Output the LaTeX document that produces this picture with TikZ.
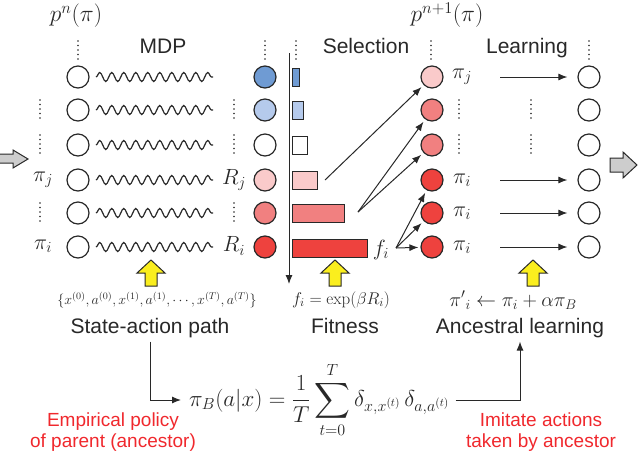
\RequirePackage{fix-cm}
\documentclass[tikz,border=0pt]{standalone}
\usepackage{exscale}
\usepackage[no-math]{fontspec}
\newfontfamily\hv{Liberation Sans}
\usetikzlibrary{arrows.meta,decorations.pathmorphing,calc}
\definecolor{cblue}{RGB}{111,155,211}
\definecolor{clblue}{RGB}{181,202,236}
\definecolor{cpink}{RGB}{250,202,202}
\definecolor{csalmon}{RGB}{241,128,128}
\definecolor{cred}{RGB}{238,66,62}
\definecolor{cyel}{RGB}{250,238,30}
\definecolor{cgray}{RGB}{205,205,205}
\definecolor{ctxtred}{RGB}{240,40,45}
\definecolor{cline}{RGB}{40,40,40}
\tikzset{
  circ/.style={circle, draw=cline, line width=1.2pt, minimum size=22pt, inner sep=0pt},
  barbox/.style={draw=cline, line width=0.9pt, anchor=west, minimum height=18pt, inner sep=0pt},
  dotline/.style={draw=cline, line width=1.6pt, dash pattern=on 0pt off 4.5pt, line cap=round},
  arr/.style={draw=cline, line width=1pt, -{Latex[length=9pt,width=7pt]}},
  wavy/.style={draw=cline, line width=1.2pt, decorate, decoration={snake, segment length=12pt, amplitude=4.5pt}},
  lbl/.style={font=\fontsize{22}{26}\selectfont, inner sep=0pt, text=cline},
  hd/.style={font=\hv\fontsize{21}{25}\selectfont, text=cline, anchor=base, inner sep=0pt},
  redtxt/.style={font=\hv\fontsize{19}{20.5}\selectfont, text=ctxtred, align=center, inner sep=0pt},
  bigarr/.style={draw=cline, line width=1pt, fill=cgray, line join=miter},
  yelarr/.style={draw=cline, line width=1pt, fill=cyel, line join=miter}
}
\begin{document}
\begin{tikzpicture}[x=1pt,y=-1pt]
\useasboundingbox (0,0) rectangle (640,456);
% rows: 77,110,145,180,213,247
\foreach \r/\y in {1/77,2/110,3/145,4/180,5/213,6/247}{
  \node[circ] (a\r) at (78,\y) {};
  \coordinate (ws\r) at (96,\y);
  \coordinate (we\r) at (213,\y);
  \draw[wavy] (ws\r) -- (we\r);
  \node[circ] (d\r) at (589,\y) {};
}
% fitness circles
\node[circ, fill=cblue] (b1) at (265,77) {};
\node[circ, fill=clblue] (b2) at (265,110) {};
\node[circ] (b3) at (265,145) {};
\node[circ, fill=cpink] (b4) at (265,180) {};
\node[circ, fill=csalmon] (b5) at (265,213) {};
\node[circ, fill=cred] (b6) at (265,247) {};
% bars
\node[barbox, fill=cblue, minimum width=7pt] (r1) at (292,77) {};
\node[barbox, fill=clblue, minimum width=11pt] (r2) at (292,110) {};
\node[barbox, fill=white, minimum width=15pt] (r3) at (292,145) {};
\node[barbox, fill=cpink, minimum width=25pt] (r4) at (292,180) {};
\node[barbox, fill=csalmon, minimum width=52pt] (r5) at (292,213) {};
\node[barbox, fill=cred, minimum width=75pt] (r6) at (292,248) {};
% new population circles
\node[circ, fill=cpink] (c1) at (432,77) {};
\node[circ, fill=csalmon] (c2) at (432,110) {};
\node[circ, fill=csalmon] (c3) at (432,145) {};
\node[circ, fill=cred] (c4) at (432,180) {};
\node[circ, fill=cred] (c5) at (432,213) {};
\node[circ, fill=cred] (c6) at (432,247) {};
% vertical axis
\coordinate (ax0) at (289,53);
\coordinate (ax1) at (289,284);
\draw[arr] (ax0) -- (ax1);
% top dotted lines
\foreach \x/\n in {78/t1,265/t2,296/t3,431/t4,589/t5}{
  \coordinate (\n a) at (\x,41);
  \coordinate (\n b) at (\x,61);
  \draw[dotline] (\n a) -- (\n b);
}
% row dots
\foreach \x/\n in {40/L,234/M,459/N,531/P}{
  \foreach \y/\k in {110/2,145/3}{
    \coordinate (\n\k a) at (\x,\y-10);
    \coordinate (\n\k b) at (\x,\y+10);
    \draw[dotline] (\n\k a) -- (\n\k b);
  }
}
\foreach \x/\n in {40/L,234/M}{
  \coordinate (\n5a) at (\x,203);
  \coordinate (\n5b) at (\x,223);
  \draw[dotline] (\n5a) -- (\n5b);
}
% labels
\node[lbl] (pj) at (43,180) {$\pi_j$};
\node[lbl] (pi) at (43,246) {$\pi_i$};
\node[lbl] (Rj) at (234,180) {$R_j$};
\node[lbl] (Ri) at (234,246) {$R_i$};
\node[lbl] (fi) at (381,250) {$f_i$};
\node[lbl] (npj) at (462,77) {$\pi_j$};
\node[lbl] (npi4) at (462,180) {$\pi_i$};
\node[lbl] (npi5) at (462,213) {$\pi_i$};
\node[lbl] (npi6) at (462,247) {$\pi_i$};
\node[lbl, font=\fontsize{23.5}{27}\selectfont] (pn) at (76,16) {$p^n(\pi)$};
\node[lbl, font=\fontsize{23.5}{27}\selectfont] (pn1) at (447,15) {$p^{n+1}(\pi)$};
% headings
\node[hd] (mdp) at (163,53) {MDP};
\node[hd] (sel) at (366,53) {Selection};
\node[hd] (lrn) at (527,53) {Learning};
% selection arrows
\coordinate (s4) at (325,180);
\coordinate (s5) at (358,212);
\coordinate (fo) at (396,248);
\draw[arr, shorten >=3pt] (s4) -- (c1);
\draw[arr, shorten >=3pt] (s5) -- (c2);
\draw[arr, shorten >=3pt] (s5) -- (c3);
\draw[arr, shorten >=3pt] (fo) -- (c4);
\draw[arr, shorten >=3pt] (fo) -- (c5);
\draw[arr, shorten >=2pt] (fo) -- (c6);
% learning arrows
\foreach \r/\y in {1/77,4/180,5/213,6/247}{
  \coordinate (l\r) at (500,\y);
  \draw[arr, shorten >=10pt] (l\r) -- (d\r.west);
}
% big gray arrows
\draw[bigarr] (-3,154) -- (13,154) -- (13,150) -- (28,159) -- (13,168) -- (13,163) -- (-3,163) -- cycle;
\draw[bigarr] (610,158) -- (623,158) -- (623,152) -- (637,165) -- (623,178) -- (623,172) -- (610,172) -- cycle;
% yellow arrows
\foreach \x in {151,335,533}{
  \draw[yelarr] (\x,260) -- (\x+14,273) -- (\x+6,273) -- (\x+6,286) -- (\x-6,286) -- (\x-6,273) -- (\x-14,273) -- cycle;
}
% bottom formulas
\node[lbl, font=\fontsize{14}{17}\selectfont] (path) at (157,300) {$\{x^{(0)},a^{(0)},x^{(1)},a^{(1)},\cdots,x^{(T)},a^{(T)}\}$};
\node[lbl, font=\fontsize{17}{20}\selectfont] (fit) at (341,300) {$f_i=\exp(\beta R_i)$};
\node[lbl, font=\fontsize{20}{24}\selectfont] (upd) at (513,300) {${\pi'}_i\leftarrow\pi_i+\alpha\pi_B$};
\node[hd] (sap) at (150,333) {State-action path};
\node[hd] (fitn) at (345,333) {Fitness};
\node[hd] (anc) at (520,333) {Ancestral learning};
\node[lbl, anchor=west, font=\fontsize{23}{27}\selectfont] (pib) at (189,400) {$\displaystyle \pi_B(a|x)=\frac{1}{T}\sum_{t=0}^{T}\delta_{x,x^{(t)}}\,\delta_{a,a^{(t)}}$};
\draw[arr, shorten <=4pt, shorten >=8pt] (sap.south) |- (pib.west);
\draw[arr, shorten <=6pt, shorten >=4pt] (pib.east) -| (anc.south);
% red notes
\node[redtxt] (emp) at (113,432) {Empirical policy\\of parent (ancestor)};
\node[redtxt] (imi) at (541,432) {Imitate actions\\taken by ancestor};
\end{tikzpicture}
\end{document}
